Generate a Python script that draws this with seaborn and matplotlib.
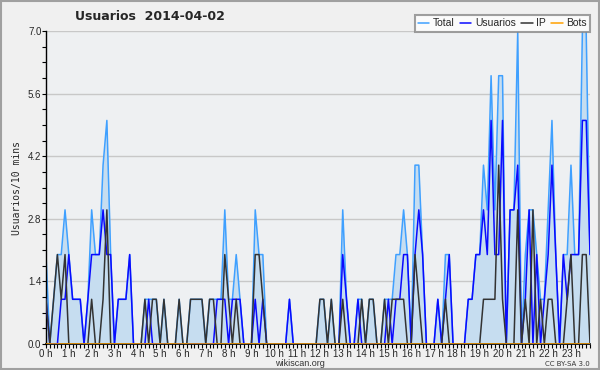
import numpy as np
import pandas as pd
import matplotlib
matplotlib.use("Agg")
import matplotlib.pyplot as plt
import seaborn as sns

# 10-minute slots (144 per day)
total = [2,0,1,2,2,3,2,1,1,1,0,1,3,2,2,4,5,2,0,1,1,1,2,0,
         0,0,1,1,1,1,0,1,0,0,0,1,0,0,1,1,1,1,0,1,1,1,1,3,
         1,1,2,1,0,0,0,3,2,2,0,0,0,0,0,0,1,0,0,0,0,0,0,0,
         1,1,0,1,0,0,3,1,0,0,1,1,0,1,1,0,0,1,1,1,2,2,3,2,
         0,4,4,2,0,0,0,1,0,2,2,0,0,0,0,1,1,2,2,4,3,6,3,6,
         6,0,3,3,7,0,2,3,3,2,1,1,3,5,2,0,2,2,4,2,2,7,7,2]
usuarios = [1,0,0,0,1,1,2,1,1,1,0,1,2,2,2,3,2,2,0,1,1,1,2,0,
            0,0,0,1,0,0,0,0,0,0,0,0,0,0,0,0,0,0,0,0,0,1,1,1,
            0,1,1,1,0,0,0,1,0,1,0,0,0,0,0,0,1,0,0,0,0,0,0,0,
            0,0,0,0,0,0,2,1,0,0,1,0,0,0,0,0,0,0,1,0,1,1,2,2,
            0,2,3,2,0,0,0,1,0,1,2,0,0,0,0,1,1,2,2,3,2,5,2,2,
            5,0,3,3,4,0,1,3,0,2,0,1,2,4,2,0,2,1,2,2,2,5,5,2]
ip = [1,0,1,2,1,2,0,0,0,0,0,0,1,0,0,1,3,0,0,0,0,0,0,0,
      0,0,1,0,1,1,0,1,0,0,0,1,0,0,1,1,1,1,0,1,1,0,0,2,
      1,0,1,0,0,0,0,2,2,1,0,0,0,0,0,0,0,0,0,0,0,0,0,0,
      1,1,0,1,0,0,1,0,0,0,0,1,0,1,1,0,0,1,0,1,1,1,1,0,
      0,2,1,0,0,0,0,0,0,1,0,0,0,0,0,0,0,0,0,1,1,1,1,4,
      1,0,0,0,3,0,1,0,3,0,1,0,1,1,0,0,0,1,2,0,0,2,2,0]
bots = [0] * 144
hour_labels = [f"{h} h" for h in range(24)]

slots = np.arange(len(total)) / 6.0
df = pd.DataFrame({"t": slots, "Total": total, "Usuarios": usuarios,
                   "IP": ip, "Bots": bots})

sns.set_style("white")
plt.rcParams["font.family"] = ["DejaVu Sans"]
NARROW = ["Liberation Sans", "DejaVu Sans"]

fig = plt.figure(figsize=(6.0, 3.7), dpi=100, facecolor="#f0f0f0")
ax = fig.add_axes([46/600, 1-344/370, 544/600, 313/370])
ax.set_facecolor("#eef0f2")

ax.fill_between(df["t"], df["Total"], color="#c6ddf0", linewidth=0, zorder=1)
for ylev in [1.4, 2.8, 4.2, 5.6, 7.0]:
    ax.axhline(ylev, color="#c8c8c8", lw=1, zorder=0.5)

colors = {"Total": "#3fa0ff", "Usuarios": "#0a0aff", "IP": "#333333", "Bots": "#ffa000"}
for name in ["Total", "Usuarios", "IP", "Bots"]:
    sns.lineplot(data=df, x="t", y=name, ax=ax, color=colors[name], lw=1.1,
                 label=name, zorder=3 if name != "Total" else 2)

ax.set_xlim(0, slots[-1])
ax.set_ylim(0, 7.0)
ax.set_yticks([0, 1.4, 2.8, 4.2, 5.6, 7.0])
ax.set_yticklabels(["0.0", "1.4", "2.8", "4.2", "5.6", "7.0"], fontsize=7, family=NARROW)
ax.set_yticks(np.arange(0, 7.01, 0.35), minor=True)
ax.set_xticks(np.arange(24))
ax.set_xticklabels(hour_labels, fontsize=7, family=NARROW)
ax.set_xticks(np.arange(0, 24, 1/6), minor=True)
ax.tick_params(axis="both", which="major", direction="out", length=3, width=0.8,
               pad=0.3, color="black")
ax.tick_params(axis="both", which="minor", direction="out", length=3, width=0.8,
               color="black")
ax.tick_params(axis="x", which="both", bottom=True)
ax.tick_params(axis="y", which="both", left=True)
for s in ["top", "right"]:
    ax.spines[s].set_visible(False)
ax.spines["left"].set_color("black")
ax.spines["bottom"].set_color("black")
ax.spines["left"].set_linewidth(1)
ax.spines["bottom"].set_linewidth(1.2)
ax.set_xlabel("")
ax.set_ylabel("Usuarios/10 mins", fontsize=7, family="DejaVu Sans Mono", labelpad=4)

leg = ax.legend(loc="upper right", bbox_to_anchor=(1.0, 1.05), ncol=4,
                prop={"family": NARROW, "size": 7.5},
                frameon=True, fancybox=False, handlelength=1.1, handletextpad=0.35,
                columnspacing=0.5, borderpad=0.3, borderaxespad=0)
leg.get_frame().set_edgecolor("#888888")
leg.get_frame().set_linewidth(1.5)
leg.get_frame().set_facecolor("white")
leg.set_zorder(10)

fig.text(75/600, 1-17/370, "Usuarios  2014-04-02", fontsize=9, fontweight="bold",
         ha="left", va="center")
fig.text(300/600, 1-364/370, "wikiscan.org", fontsize=6.5, ha="center", va="center",
         color="#333333", family=NARROW)
fig.text(590/600, 1-364/370, "CC BY-SA 3.0", fontsize=5, ha="right", va="center",
         color="#333333")
fig.patches.append(plt.Rectangle((0.001, 0.002), 0.997, 0.995, transform=fig.transFigure,
                                 fill=False, edgecolor="#a0a0a0", lw=1.5))

fig.savefig("out.png", dpi=100, facecolor=fig.get_facecolor())
